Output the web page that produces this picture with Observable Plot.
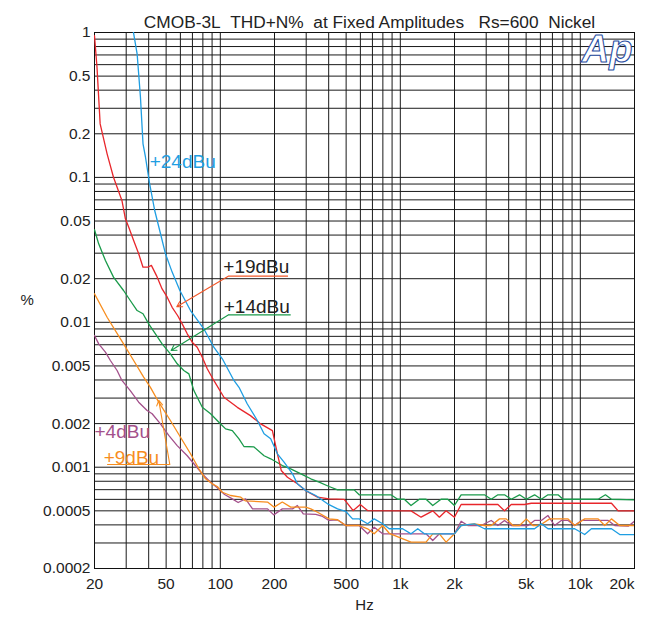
<!DOCTYPE html>
<html>
<head>
<meta charset="utf-8">
<script src="https://cdn.jsdelivr.net/npm/d3@7"></script>
<script src="https://cdn.jsdelivr.net/npm/@observablehq/plot@0.6"></script>
<style>
  html, body { margin: 0; padding: 0; background: white; }
</style>
</head>
<body>
<div id="chart"></div>
<script>
// ---- data (frequency Hz, THD+N %) ----
const s24 = [[32.5,1.1],[34.5,0.713],[36.0,0.358],[37.2,0.1706],[38.4,0.1378],[40.5,0.0903],[43.2,0.0591],[46.5,0.041],[49.6,0.0297],[54,0.0222],[59.6,0.01658],[68.3,0.01206],[81,0.00902],[92,0.00673],[102.6,0.0056],[119,0.00397],[127,0.00356],[141,0.00274],[160.6,0.0021],[175,0.0017],[190.5,0.00157],[207.6,0.001238],[226,0.001083],[252,0.0009],[268,0.000768],[298,0.00069],[339,0.000638],[394,0.000559],[448,0.000516],[498,0.000495],[543,0.00044],[591,0.00044],[658,0.000407],[716,0.00044],[798,0.000407],[868,0.000376],[1030,0.000376],[1147,0.000347],[1250,0.000376],[1360,0.000347],[1998,0.000347],[2177,0.000396],[2581,0.000407],[2934,0.000376],[5572,0.000376],[6070,0.000407],[6614,0.000376],[9306,0.000376],[10576,0.000343],[11526,0.000376],[14894,0.000376],[16560,0.000343],[20000,0.000343]];

const s19 = [[20,0.95],[20.65,0.576],[21.5,0.234],[23.5,0.1455],[25.5,0.1003],[28.4,0.0693],[29.7,0.0518],[31.0,0.0453],[33.0,0.0367],[35.2,0.0297],[37.2,0.024],[39.5,0.024],[41.4,0.0247],[44.2,0.021],[47.5,0.017],[50.7,0.0149],[54,0.0127],[58,0.0111],[61.4,0.00976],[65.5,0.00833],[69.8,0.00729],[74.4,0.00673],[79.4,0.00574],[84.6,0.00478],[92,0.00397],[104.7,0.00304],[124.3,0.00259],[147,0.00227],[167.6,0.00199],[194.7,0.00179],[207.6,0.001238],[218,0.00095],[236,0.000853],[268,0.000768],[298,0.00069],[347,0.000621],[402,0.000605],[488,0.0006],[547,0.000502],[599,0.000553],[658,0.000502],[1147,0.0005],[1304,0.000452],[1514,0.0005],[1648,0.000452],[1796,0.0005],[1998,0.000452],[2177,0.000553],[3485,0.000553],[3792,0.0005],[4132,0.000553],[4900,0.000553],[5340,0.000564],[14894,0.000564],[16228,0.0005],[20000,0.0005]];

const s14 = [[20,0.0435],[21.1,0.0348],[23.0,0.0267],[25.5,0.0205],[29.0,0.01658],[31.6,0.01414],[34.5,0.01206],[37.2,0.01145],[40.0,0.00976],[43.6,0.00833],[47.5,0.0071],[52.8,0.00606],[57.6,0.00517],[62.7,0.00465],[66.9,0.00441],[71.3,0.00338],[79.4,0.00259],[88.3,0.00234],[98.2,0.002045],[107,0.00184],[116.6,0.00179],[127,0.00157],[135.3,0.00139],[153.8,0.00138],[175,0.0012],[190.5,0.001143],[221,0.001027],[246,0.000975],[286,0.00089],[318,0.000832],[354,0.000788],[402,0.000736],[448,0.000698],[554,0.000698],[591,0.000645],[887,0.000645],[967,0.000601],[1052,0.000601],[1147,0.000544],[1275,0.000601],[1390,0.000601],[1514,0.000544],[1684,0.000601],[1835,0.000601],[1998,0.000544],[2177,0.000645],[2934,0.000645],[3198,0.000601],[3485,0.000645],[3792,0.000645],[4132,0.000601],[4596,0.000645],[5008,0.000601],[5572,0.000645],[6070,0.000601],[6614,0.000645],[7521,0.000645],[8020,0.000601],[12561,0.000601],[13790,0.000645],[14894,0.000601],[20000,0.000595]];

const s9 = [[20,0.01573],[23.5,0.01084],[29.0,0.0071],[33.0,0.00545],[37.5,0.00418],[40.9,0.00356],[45.5,0.00281],[52.8,0.0021],[60.1,0.00161],[68.3,0.001238],[76,0.000975],[82.8,0.000832],[90.2,0.000768],[96.2,0.000736],[102.6,0.000672],[114,0.000638],[130,0.000621],[138,0.000585],[183,0.000575],[199,0.00053],[221,0.000575],[246,0.00053],[298,0.00053],[318,0.000516],[347,0.000489],[402,0.00044],[448,0.000434],[498,0.000396],[591,0.000396],[658,0.000376],[716,0.000347],[798,0.000396],[868,0.00035],[1147,0.000304],[1390,0.000304],[1514,0.000347],[1648,0.000347],[1796,0.000304],[1998,0.000347],[2177,0.000396],[2581,0.000407],[2934,0.000396],[3198,0.000396],[3557,0.00044],[3876,0.00044],[4224,0.000396],[4596,0.000396],[5008,0.00044],[5458,0.000396],[5941,0.000396],[6752,0.00044],[8546,0.00044],[9306,0.000396],[10576,0.00044],[12561,0.00044],[13666,0.000396],[14894,0.00044],[16560,0.000396],[20000,0.000396]];

const s4 = [[20,0.00811],[21.1,0.0071],[23.0,0.00622],[24.5,0.00545],[26.7,0.00465],[28.4,0.00397],[31.6,0.00338],[35.2,0.00281],[39.2,0.00246],[41.8,0.00234],[46.5,0.00199],[51.7,0.00166],[57.6,0.00141],[65.5,0.0012],[71.3,0.001056],[79.4,0.0009],[88.3,0.000788],[96.2,0.000721],[105.6,0.000648],[116.6,0.000605],[125.6,0.000571],[138,0.000605],[151,0.000516],[183,0.000516],[198,0.000469],[221,0.000516],[252,0.000516],[268,0.000544],[289,0.000477],[339,0.000472],[370,0.000457],[401,0.000429],[447,0.000434],[498,0.000396],[591,0.000396],[658,0.000347],[716,0.000385],[798,0.000347],[1390,0.000347],[1514,0.000312],[1648,0.000347],[1998,0.000347],[2177,0.000424],[2372,0.000396],[2812,0.000396],[3198,0.000429],[3485,0.000396],[3792,0.000429],[4132,0.000396],[5118,0.000396],[5572,0.000429],[6070,0.000429],[6614,0.000464],[7196,0.000396],[7844,0.000429],[8546,0.000429],[9306,0.000396],[10140,0.000429],[14278,0.000429],[15538,0.000396],[18448,0.000392],[20000,0.000424]];

// tick labels
const xTickVals = [20, 50, 100, 200, 500, 1000, 2000, 5000, 10000, 20000];
const xTickText = ["20", "50", "100", "200", "500", "1k", "2k", "5k", "10k", "20k"];
const yTickVals = [1, 0.5, 0.2, 0.1, 0.05, 0.02, 0.01, 0.005, 0.002, 0.001, 0.0005, 0.0002];
const yTickText = ["1", "0.5", "0.2", "0.1", "0.05", "0.02", "0.01", "0.005", "0.002", "0.001", "0.0005", "0.0002"];

// annotation labels (anchor in data coordinates)
const labelText = ["+24dBu", "+19dBu", "+14dBu", "+4dBu", "+9dBu"];
const labelF = [40.5, 103.9, 104.5, 20, 22.5];
const labelV = [0.1277, 0.02415, 0.0127, 0.001755, 0.001163];
// underlines and leader arrows (+19, +14, +9)
const underlineF1 = [110.7, 111.2, 23.5];
const underlineF2 = [237.8, 246, 52.4];
const underlineV = [0.0208, 0.01127, 0.001044];
const arrowStartF = [110.7, 111.2, 52.4];
const arrowTipF = [57.3, 53.3, 45.5];
const arrowTipV = [0.0128, 0.00639, 0.00289];

const title = "CMOB-3L\u00a0\u00a0THD+N%\u00a0\u00a0at Fixed Amplitudes\u00a0\u00a0\u00a0Rs=600\u00a0\u00a0Nickel";

// ---- styles ----
const C24 = "#1f9ee2", C19 = "#e8262b", C14 = "#1a9a4a", C9 = "#f78d1e", C4 = "#a3508b";
const labelColors = [C24, "#222", "#222", C4, C9];
const leaderColors = ["#f2582a", C14, C9];
const FONT = "Liberation Sans, Arial, Helvetica, sans-serif";

const xGrid = d3.scaleLog().domain([20, 20000]).ticks();
const yGrid = d3.scaleLog().domain([0.0002, 1]).ticks();

const labels = labelText.map((t, i) => ({t, f: labelF[i], v: labelV[i], c: labelColors[i]}));
const leaders = underlineV.map((v, i) => ({f1: underlineF1[i], f2: underlineF2[i], v, sf: arrowStartF[i], tf: arrowTipF[i], tv: arrowTipV[i], c: leaderColors[i]}));

const lineOpts = (c) => ({x: d => d[0], y: d => d[1], stroke: c, strokeWidth: 1.3, clip: true});

const chart = Plot.plot({
  width: 647,
  height: 619,
  marginLeft: 94,
  marginRight: 13,
  marginTop: 32,
  marginBottom: 51,
  style: {background: "white", fontFamily: FONT, color: "#222"},
  x: {type: "log", domain: [20, 20000], axis: null},
  y: {type: "log", domain: [0.0002, 1], axis: null},
  marks: [
    Plot.ruleX(xGrid, {stroke: "#1a1a1a", strokeWidth: 1}),
    Plot.ruleY(yGrid, {stroke: "#1a1a1a", strokeWidth: 1}),
    Plot.frame({stroke: "#111", strokeWidth: 1}),
    Plot.line(s4, lineOpts(C4)),
    Plot.line(s9, lineOpts(C9)),
    Plot.line(s14, lineOpts(C14)),
    Plot.line(s19, lineOpts(C19)),
    Plot.line(s24, lineOpts(C24)),
    // y tick labels
    Plot.text(yTickVals, {y: d => d, text: (d, i) => yTickText[i], frameAnchor: "left", textAnchor: "end", dx: -4, fontSize: 15.5, fill: "#222"}),
    // x tick labels
    Plot.text(xTickVals.slice(0, -1), {x: d => d, text: (d, i) => xTickText[i], frameAnchor: "bottom", lineAnchor: "middle", dy: 16, fontSize: 15.5, fill: "#222"}),
    Plot.text(xTickVals.slice(-1), {x: d => d, text: () => xTickText[xTickText.length - 1], frameAnchor: "bottom", lineAnchor: "middle", textAnchor: "end", dy: 16, fontSize: 15.5, fill: "#222"}),
    // axis labels
    Plot.text(["%"], {frameAnchor: "left", dx: -74, fontSize: 15, fill: "#222"}),
    Plot.text(["Hz"], {frameAnchor: "bottom", dy: 41, fontSize: 15, fill: "#222"}),
    // title
    Plot.text([title], {frameAnchor: "top", lineAnchor: "bottom", dy: -5, dx: 5, fontSize: 17.3, fill: "#222"}),
    // Ap logo
    Plot.text(["Ap"], {frameAnchor: "top-right", textAnchor: "end", lineAnchor: "bottom", dx: -2, dy: 29.5, fontSize: 38, fontStyle: "italic", fontWeight: "bold", letterSpacing: -2, fill: "white", stroke: "#2a4ea3", strokeWidth: 1.1, paintOrder: "normal"}),
    // leader lines
    Plot.link(leaders, {x1: "f1", x2: "f2", y1: "v", y2: "v", stroke: "c", strokeWidth: 1.2}),
    Plot.arrow(leaders, {x1: "sf", y1: "v", x2: "tf", y2: "tv", stroke: "c", strokeWidth: 1.1, headLength: 8}),
    // series labels
    Plot.text(labels, {x: "f", y: "v", text: "t", fill: "c", textAnchor: "start", lineAnchor: "middle", fontSize: 19})
  ]
});

document.getElementById("chart").appendChild(chart);
</script>
</body>
</html>
